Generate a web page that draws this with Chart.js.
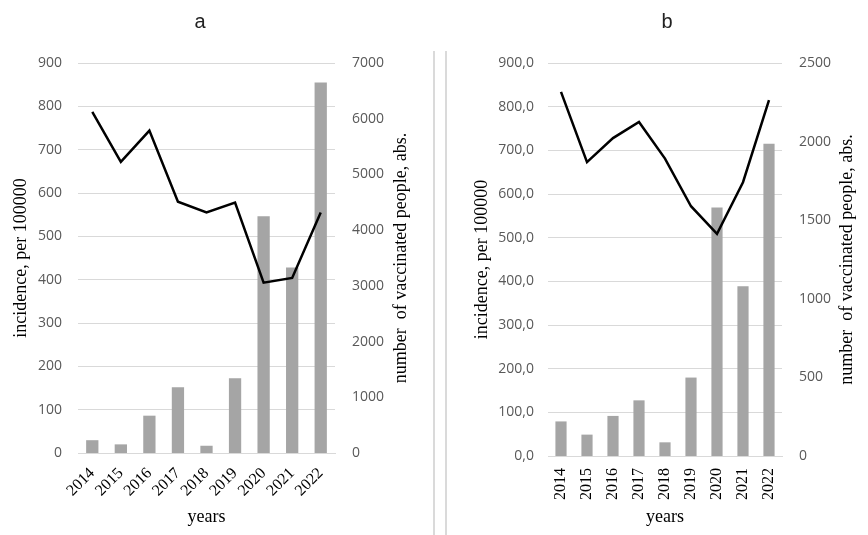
<!DOCTYPE html>
<html>
<head>
<meta charset="utf-8">
<script src="https://cdn.jsdelivr.net/npm/chart.js@4/dist/chart.umd.min.js"></script>
<style>
  html, body { margin: 0; padding: 0; background: #fff; }
  #wrap { position: relative; width: 868px; height: 535px; overflow: hidden; background: #fff; }
  #chartA { position: absolute; left: 0; top: 0; width: 434px; height: 535px; }
  #chartB { position: absolute; left: 446px; top: 0; width: 422px; height: 535px; }
  .rule { position: absolute; top: 51px; width: 2px; height: 484px; background: #dadada; }
</style>
</head>
<body>
<div id="wrap">
  <canvas id="chartA" width="434" height="535"></canvas>
  <canvas id="chartB" width="422" height="535"></canvas>
  <div class="rule" style="left:433px"></div>
  <div class="rule" style="left:445px"></div>
</div>
<script>
// Years shown on both panels
const years = ['2014', '2015', '2016', '2017', '2018', '2019', '2020', '2021', '2022'];

// Panel a: incidence per 100000 (line) and vaccinated people (bars)
const incidenceA = [787, 672, 744, 580, 555, 578, 393, 404, 555];
const vaccinatedA = [230, 155, 670, 1180, 130, 1340, 4250, 3330, 6650];

// Panel b
const incidenceB = [834, 673, 728, 765, 681, 572, 509, 627, 815];
const vaccinatedB = [220, 136, 255, 354, 87, 499, 1580, 1080, 1987];

// Axis ranges
const leftMax = 900, leftStep = 100;
const rightMaxA = 7000, rightStepA = 1000;
const rightMaxB = 2500, rightStepB = 500;

const SERIF = '"Liberation Serif", "Times New Roman", serif';
const SANS = '"Open Sans", "Noto Sans", sans-serif';
const GRID = '#d9d9d9';
const TICK = '#595959';

// Draws the panel heading and the right-hand axis title (read bottom to top)
const panelText = {
  id: 'panelText',
  afterDraw(chart, args, opts) {
    const ctx = chart.ctx;
    const area = chart.chartArea;
    ctx.save();
    ctx.fillStyle = '#222';
    ctx.font = '20px "Liberation Sans", Arial, sans-serif';
    ctx.textAlign = 'center';
    ctx.textBaseline = 'middle';
    ctx.fillText(opts.heading, opts.headingX, 22);

    ctx.fillStyle = '#000';
    ctx.font = '18px ' + SERIF;
    ctx.translate(opts.rightTitleX, (area.top + area.bottom) / 2);
    ctx.rotate(-Math.PI / 2);
    ctx.fillText(opts.rightTitle, 0, 0);
    ctx.restore();
  }
};

function build(canvasId, cfg) {
  return new Chart(document.getElementById(canvasId), {
    type: 'bar',
    data: {
      labels: years,
      datasets: [
        {
          type: 'line',
          data: cfg.incidence,
          yAxisID: 'y',
          borderColor: '#000',
          borderWidth: 2.5,
          pointRadius: 0,
          tension: 0,
          order: 0
        },
        {
          type: 'bar',
          data: cfg.vaccinated,
          yAxisID: 'y1',
          backgroundColor: '#a5a5a5',
          borderWidth: 0,
          barPercentage: cfg.barPct,
          categoryPercentage: 1,
          order: 1
        }
      ]
    },
    options: {
      responsive: false,
      animation: false,
      devicePixelRatio: 1,
      layout: { padding: { top: cfg.top, left: 0, right: 0, bottom: 0 } },
      plugins: {
        legend: { display: false },
        tooltip: { enabled: false },
        panelText: {
          heading: cfg.heading,
          headingX: cfg.headingX,
          rightTitle: 'number  of vaccinated people, abs.',
          rightTitleX: cfg.rightTitleX
        }
      },
      scales: {
        x: {
          grid: { display: false, drawTicks: false },
          border: { display: true, color: GRID, width: 1 },
          ticks: {
            autoSkip: false,
            minRotation: cfg.rotation,
            maxRotation: cfg.rotation,
            padding: cfg.xPad,
            color: '#000',
            font: { family: SERIF, size: 16 }
          },
          title: {
            display: true,
            text: 'years',
            color: '#000',
            font: { family: SERIF, size: 18 },
            padding: { top: 0, bottom: 7 }
          },
          afterFit(s) { s.height = cfg.xHeight; }
        },
        y: {
          position: 'left',
          min: 0,
          max: leftMax,
          grid: { color: GRID, lineWidth: 1, drawTicks: false },
          border: { display: false },
          ticks: {
            stepSize: leftStep,
            padding: cfg.leftPad,
            color: TICK,
            font: { family: SANS, size: 14 },
            callback: cfg.leftFormat
          },
          title: {
            display: true,
            text: 'incidence, per 100000',
            color: '#000',
            font: { family: SERIF, size: 18 },
            padding: { top: cfg.leftTitlePad, bottom: 0 }
          },
          afterFit(s) { s.width = cfg.leftWidth; }
        },
        y1: {
          position: 'right',
          min: 0,
          max: cfg.rightMax,
          grid: { display: false, drawTicks: false },
          border: { display: false },
          ticks: {
            stepSize: cfg.rightStep,
            padding: cfg.rightPad,
            color: TICK,
            font: { family: SANS, size: 14 },
            callback: v => String(v)
          },
          afterFit(s) { s.width = cfg.rightWidth; }
        }
      }
    },
    plugins: [panelText]
  });
}

build('chartA', {
  incidence: incidenceA,
  vaccinated: vaccinatedA,
  rightMax: rightMaxA,
  rightStep: rightStepA,
  heading: 'a',
  headingX: 200,
  rightTitleX: 401,
  top: 63,
  xHeight: 82,
  leftWidth: 78,
  rightWidth: 99,
  leftPad: 16,
  rightPad: 17,
  leftTitlePad: 10,
  rotation: 45,
  xPad: 11,
  barPct: 0.43,
  leftFormat: v => String(v)
});

build('chartB', {
  incidence: incidenceB,
  vaccinated: vaccinatedB,
  rightMax: rightMaxB,
  rightStep: rightStepB,
  heading: 'b',
  headingX: 221,
  rightTitleX: 401,
  top: 63,
  xHeight: 79,
  leftWidth: 102,
  rightWidth: 86,
  leftPad: 14,
  rightPad: 17,
  leftTitlePad: 25,
  rotation: 90,
  xPad: 12,
  barPct: 0.43,
  leftFormat: v => v.toFixed(1).replace('.', ',')
});
</script>
</body>
</html>
